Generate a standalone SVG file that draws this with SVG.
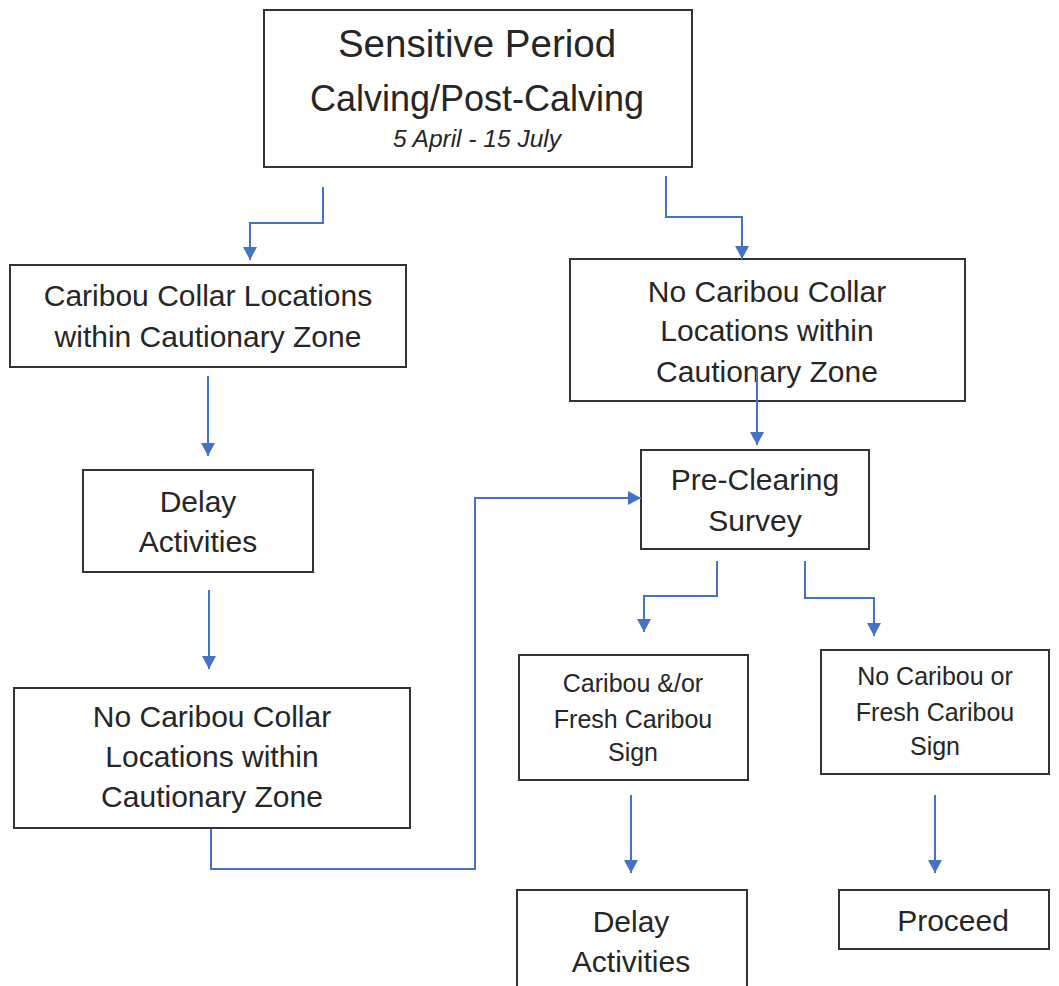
<svg xmlns="http://www.w3.org/2000/svg" width="1059" height="986" viewBox="0 0 1059 986">
<style>
.box{fill:#fff;stroke:#333;stroke-width:2}
.t{font-family:"Liberation Sans",Arial,sans-serif;font-size:30px;fill:#262626;text-anchor:middle}
.s{font-size:25px}
.title1{font-size:38.5px}
.title2{font-size:36px}
.date{font-size:24.5px;font-style:italic}
.c{fill:none;stroke:#4472C4;stroke-width:2}
</style>
<defs>
<marker id="ah" markerUnits="userSpaceOnUse" markerWidth="14" markerHeight="15" refX="13" refY="7.5" orient="auto">
<path d="M0,0.5 L13,7.5 L0,14.5 Z" fill="#4472C4"/>
</marker>
</defs>
<rect width="1059" height="986" fill="#fff"/>
<g id="n-sensitive">
<rect class="box" x="264" y="10" width="428" height="157"/>
<text class="t title1" x="477" y="57">Sensitive Period</text>
<text class="t title2" x="477" y="111">Calving/Post-Calving</text>
<text class="t date" x="477" y="147">5 April - 15 July</text>
</g>
<g id="n-collar">
<rect class="box" x="10" y="265" width="396" height="102"/>
<text class="t" x="208" y="306">Caribou Collar Locations</text>
<text class="t" x="208" y="347">within Cautionary Zone</text>
</g>
<g id="n-nocollar-right">
<rect class="box" x="570" y="259" width="395" height="142"/>
<text class="t" x="767" y="302">No Caribou Collar</text>
<text class="t" x="767" y="341">Locations within</text>
<text class="t" x="767" y="382">Cautionary Zone</text>
</g>
<g id="n-delay1">
<rect class="box" x="83" y="470" width="230" height="102"/>
<text class="t" x="198" y="512">Delay</text>
<text class="t" x="198" y="552">Activities</text>
</g>
<g id="n-nocollar-left">
<rect class="box" x="14" y="688" width="396" height="140"/>
<text class="t" x="212" y="727">No Caribou Collar</text>
<text class="t" x="212" y="767">Locations within</text>
<text class="t" x="212" y="807">Cautionary Zone</text>
</g>
<g id="n-preclearing">
<rect class="box" x="641" y="450" width="228" height="99"/>
<text class="t" x="755" y="490">Pre-Clearing</text>
<text class="t" x="755" y="531">Survey</text>
</g>
<g id="n-sign">
<rect class="box" x="519" y="655" width="229" height="125"/>
<text class="t s" x="633" y="692">Caribou &amp;/or</text>
<text class="t s" x="633" y="728">Fresh Caribou</text>
<text class="t s" x="633" y="761">Sign</text>
</g>
<g id="n-nosign">
<rect class="box" x="821" y="650" width="228" height="124"/>
<text class="t s" x="935" y="685">No Caribou or</text>
<text class="t s" x="935" y="721">Fresh Caribou</text>
<text class="t s" x="935" y="755">Sign</text>
</g>
<g id="n-delay2">
<rect class="box" x="517" y="890" width="230" height="110"/>
<text class="t" x="631" y="932">Delay</text>
<text class="t" x="631" y="972">Activities</text>
</g>
<g id="n-proceed">
<rect class="box" x="839" y="890" width="210" height="59"/>
<text class="t" x="953" y="931">Proceed</text>
</g>
<g id="connectors">
<path class="c" d="M323,187 V223 H250 V260" marker-end="url(#ah)"/>
<path class="c" d="M666,176 V217 H742 V259" marker-end="url(#ah)"/>
<path class="c" d="M208,376 V456" marker-end="url(#ah)"/>
<path class="c" d="M209,590 V669" marker-end="url(#ah)"/>
<path class="c" d="M757,367 V445" marker-end="url(#ah)"/>
<path class="c" d="M211,829 V869 H475 V498 H641" marker-end="url(#ah)"/>
<path class="c" d="M717,561 V596 H644 V632" marker-end="url(#ah)"/>
<path class="c" d="M805,561 V598 H874 V636" marker-end="url(#ah)"/>
<path class="c" d="M631,795 V873" marker-end="url(#ah)"/>
<path class="c" d="M935,795 V873" marker-end="url(#ah)"/>
</g>
</svg>
